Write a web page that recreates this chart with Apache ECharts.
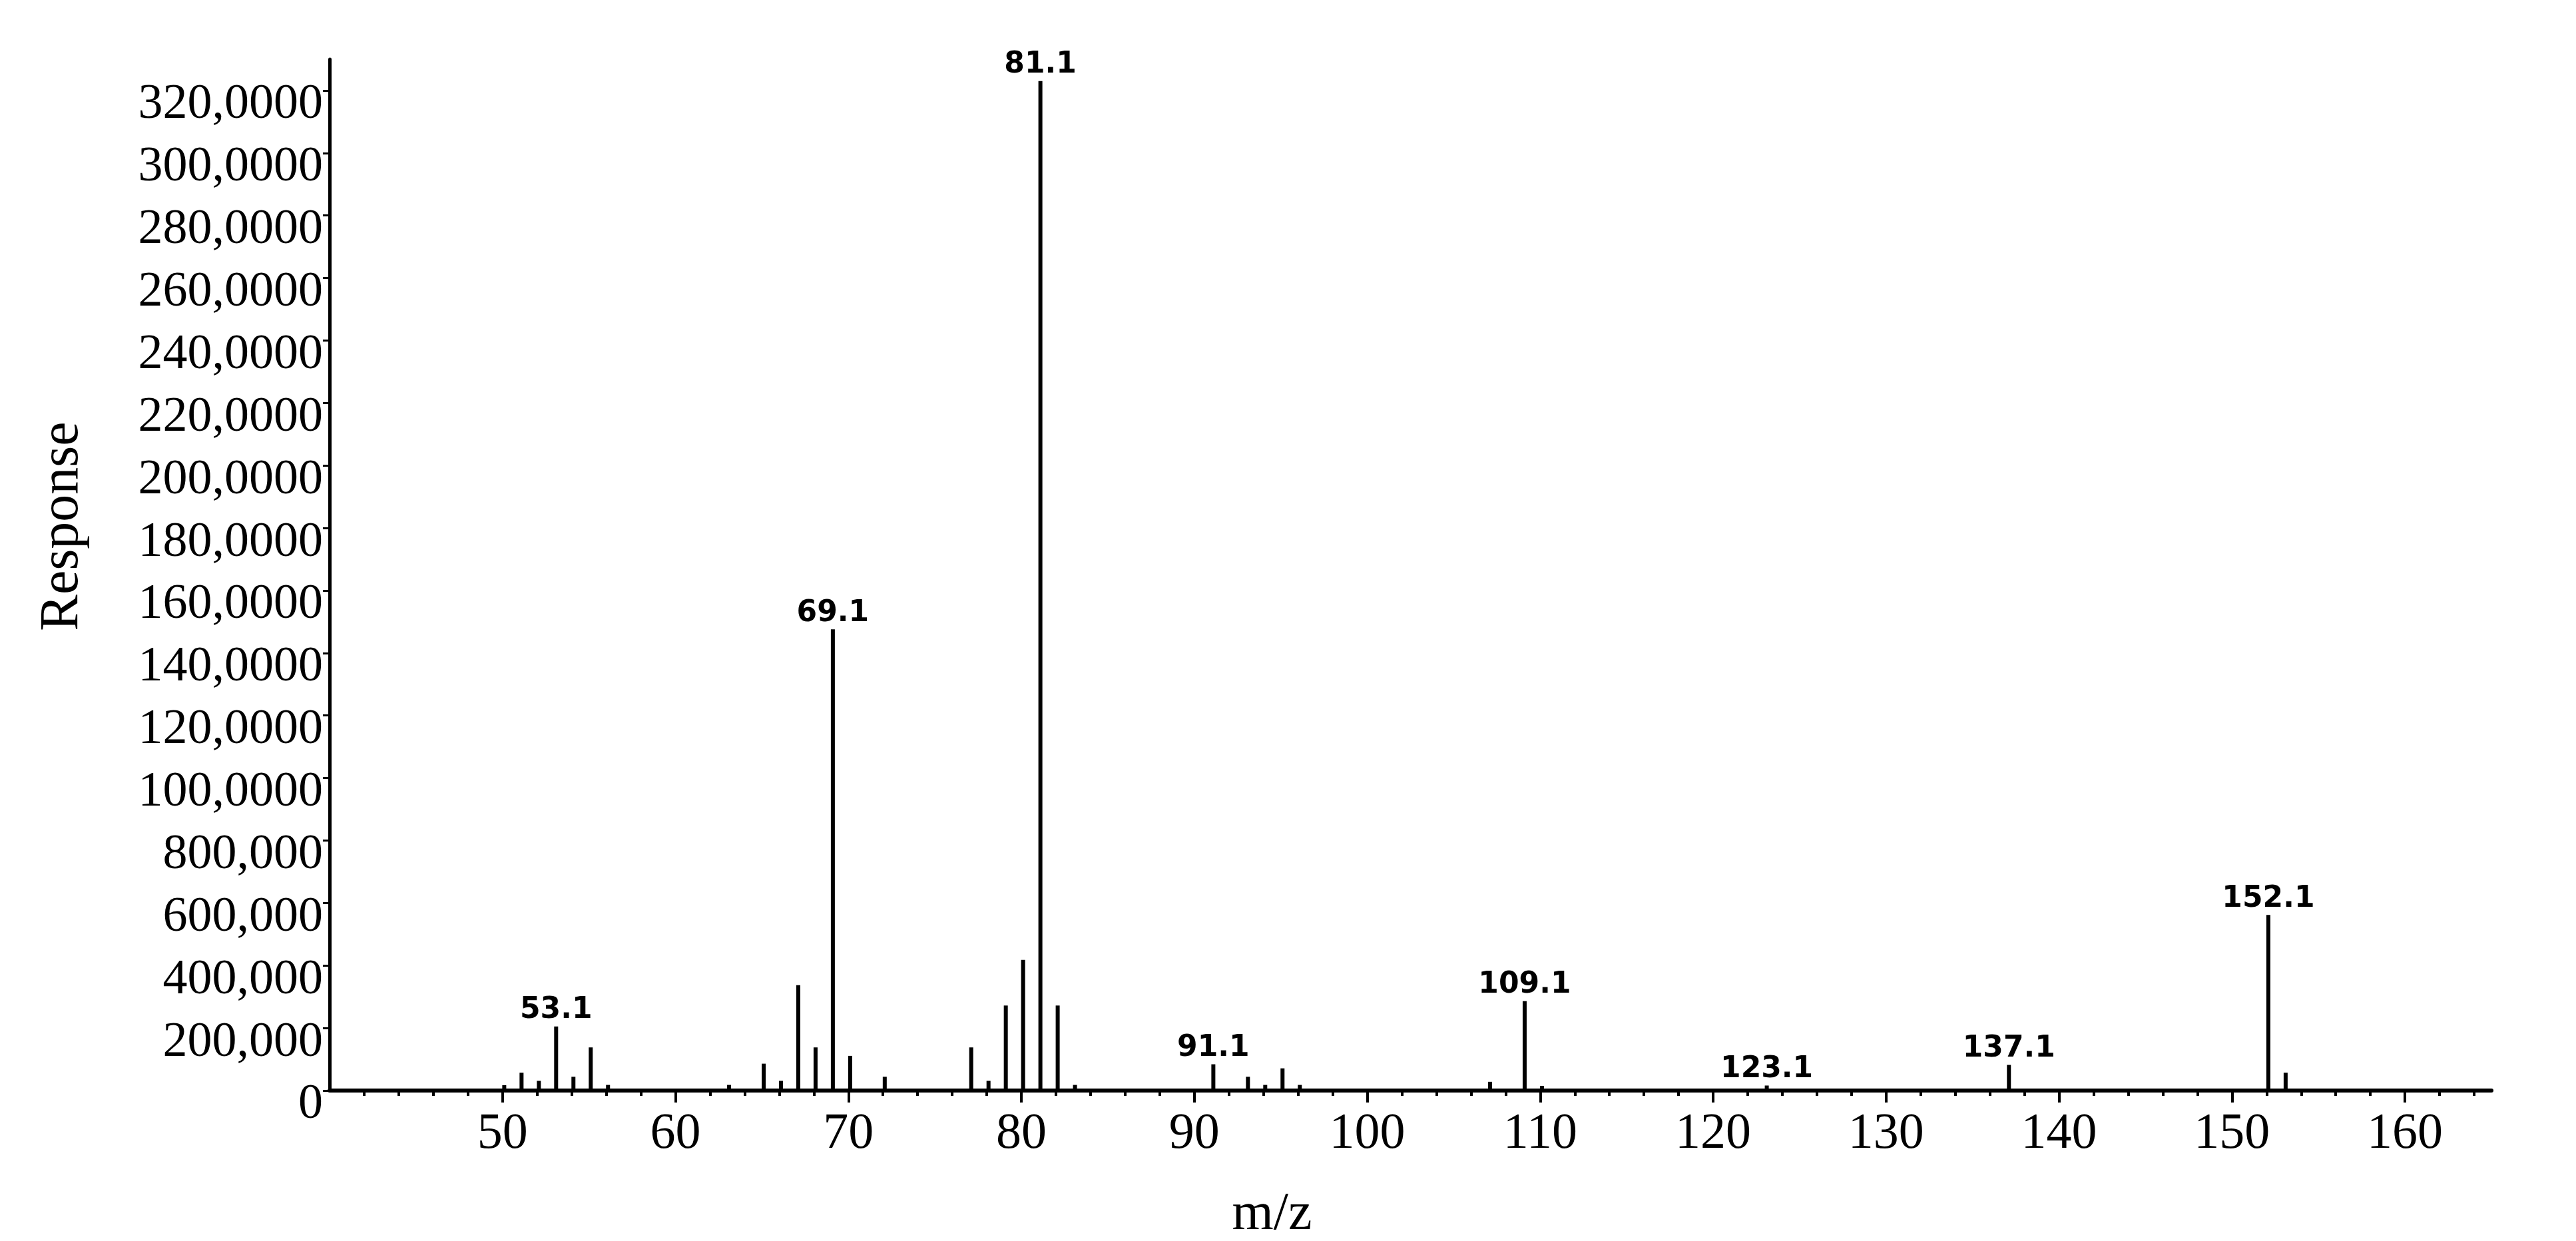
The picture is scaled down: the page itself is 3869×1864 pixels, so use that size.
<!DOCTYPE html>
<html>
<head>
<meta charset="utf-8">
<title>Mass spectrum</title>
<script src="https://cdn.jsdelivr.net/npm/echarts@6/dist/echarts.min.js"></script>
<style>
  html, body { margin: 0; padding: 0; background: #fff; }
  #main { width: 3869px; height: 1864px; }
</style>
</head>
<body>
<div id="main"></div>
<script>
// m/z of each peak
var peakMz = [50.1, 51.1, 52.1, 53.1, 54.1, 55.1, 56.1, 63.1, 65.1, 66.1, 67.1, 68.1, 69.1, 70.1, 72.1,
  77.1, 78.1, 79.1, 80.1, 81.1, 82.1, 83.1, 91.1, 93.1, 94.1, 95.1, 96.1, 107.1, 109.1, 110.1,
  123.1, 137.1, 152.1, 153.1];
// response (abundance) of each peak
var peakResponse = [17000, 57000, 31000, 205000, 44000, 138000, 18000, 18000, 86000, 31000, 337000, 138000, 1476000, 111000, 44000,
  138000, 31000, 272000, 418000, 3230000, 272000, 18000, 84000, 44000, 18000, 71000, 18000, 28000, 286000, 15000,
  16000, 82000, 562000, 57000];
// peaks that carry a text label
var labelledPeaks = ["53.1", "69.1", "81.1", "91.1", "109.1", "123.1", "137.1", "152.1"];

// x axis ticks
var xMajorTicks = [50, 60, 70, 80, 90, 100, 110, 120, 130, 140, 150, 160];
var xMinorTicks = [];
for (var t = 42; t <= 164; t += 2) xMinorTicks.push(t);

// y axis ticks and the labels as printed on the original
var yTickValues = [0, 200000, 400000, 600000, 800000, 1000000, 1200000, 1400000, 1600000,
  1800000, 2000000, 2200000, 2400000, 2600000, 2800000, 3000000, 3200000];
var yTickLabels = ["0", "200,000", "400,000", "600,000", "800,000", "100,0000", "120,0000", "140,0000", "160,0000",
  "180,0000", "200,0000", "220,0000", "240,0000", "260,0000", "280,0000", "300,0000", "320,0000"];

var serif = "Liberation Serif";

var barData = peakMz.map(function (mz, i) {
  var item = { value: [mz, peakResponse[i]] };
  var txt = mz.toFixed(1);
  if (labelledPeaks.indexOf(txt) >= 0) {
    item.label = { show: true, formatter: txt };
  }
  return item;
});

var myChart = echarts.init(document.getElementById("main"));
myChart.setOption({
  backgroundColor: "#fff",
  animation: false,
  grid: {
    left: 495,
    right: 127,
    top: 89,
    bottom: 226,
    containLabel: false,
    outerBoundsMode: "none"
  },
  xAxis: [
    {
      type: "value",
      min: 40,
      max: 165,
      name: "m/z",
      nameLocation: "middle",
      nameGap: 147,
      nameTextStyle: { fontFamily: serif, fontSize: 80, color: "#000", padding: [0, 416, 0, 0] },
      axisLine: { show: true, onZero: false, lineStyle: { color: "#000", width: 6 } },
      axisTick: { show: true, customValues: xMajorTicks, length: 18, lineStyle: { color: "#000", width: 4 } },
      axisLabel: { customValues: xMajorTicks, fontFamily: serif, fontSize: 76, color: "#000", margin: 28 },
      splitLine: { show: false }
    },
    {
      type: "value",
      min: 40,
      max: 165,
      position: "bottom",
      axisLine: { show: false },
      axisTick: { show: true, customValues: xMinorTicks, length: 8, lineStyle: { color: "#000", width: 4 } },
      axisLabel: { show: false },
      splitLine: { show: false }
    }
  ],
  yAxis: {
    type: "value",
    min: 0,
    max: 3300000,
    name: "Response",
    nameLocation: "middle",
    nameGap: 360,
    nameTextStyle: { fontFamily: serif, fontSize: 82, color: "#000", padding: [0, 0, 0, 146] },
    axisLine: { show: true, lineStyle: { color: "#000", width: 5 } },
    axisTick: { show: true, customValues: yTickValues, length: 10, lineStyle: { color: "#000", width: 3 } },
    axisLabel: {
      customValues: yTickValues,
      fontFamily: serif,
      fontSize: 74,
      color: "#000",
      margin: 10,
      verticalAlign: "top",
      lineHeight: 44,
      formatter: function (v) {
        var i = yTickValues.indexOf(v);
        return i >= 0 ? yTickLabels[i] : "";
      }
    },
    splitLine: { show: false }
  },
  series: [
    {
      type: "bar",
      xAxisIndex: 0,
      data: barData,
      barWidth: 6,
      itemStyle: { color: "#000" },
      label: {
        show: false,
        position: "top",
        distance: 2,
        fontFamily: "DejaVu Sans",
        fontWeight: "bold",
        fontSize: 44,
        color: "#000"
      }
    }
  ]
});
</script>
</body>
</html>
